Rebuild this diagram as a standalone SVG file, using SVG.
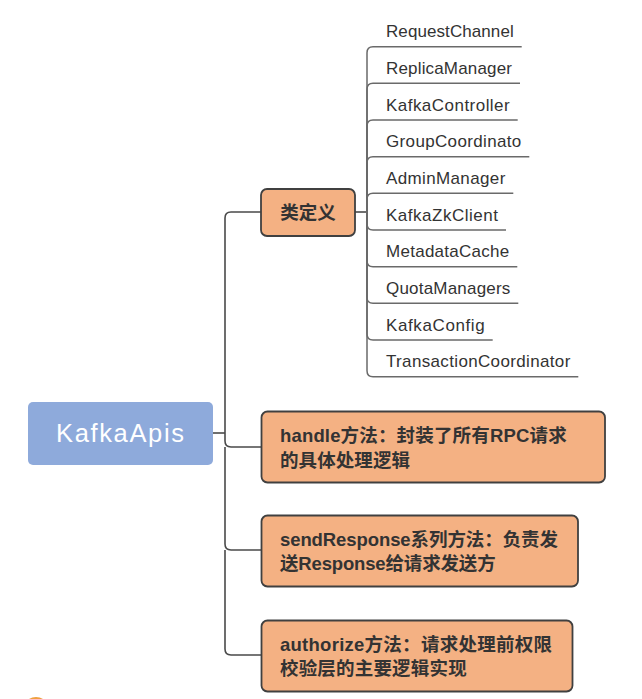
<svg xmlns="http://www.w3.org/2000/svg" width="642" height="699" viewBox="0 0 642 699">
<style>
.bg{fill:#ffffff}
.link{fill:none;stroke:#4a4a4a;stroke-width:1.6}
.leafline{fill:none;stroke:#6a6a6a;stroke-width:1.5}
.root{fill:#8eaadb}
.box{fill:#f4b183;stroke:#404040;stroke-width:1.8}
.roottext{font-family:"Liberation Sans","Noto Sans CJK SC",sans-serif;font-size:25.5px;fill:#ffffff}
.leaf{font-family:"Liberation Sans","Noto Sans CJK SC",sans-serif;font-size:17px;fill:#333333}
.bt{font-family:"Liberation Sans","Noto Sans CJK SC",sans-serif;font-size:18.5px;font-weight:bold;fill:#333333}
</style>
<rect class="bg" x="0" y="0" width="642" height="699"/>
<g id="connectors">
<path class="link" d="M213 433 H225"/>
<path class="link" d="M225 433 V218 Q225 212 231 212 H261"/>
<path class="link" d="M225 433 V441 Q225 447 231 447 H261"/>
<path class="link" d="M225 447 V544 Q225 550 231 550 H261"/>
<path class="link" d="M225 550 V649 Q225 655 231 655 H261"/>
<path class="link" d="M355 212 H367"/>
<path class="leafline" d="M367 212 V52.7 Q367 46.7 373 46.7 H521.7"/>
<path class="leafline" d="M367 212 V89.3 Q367 83.3 373 83.3 H520"/>
<path class="leafline" d="M367 212 V126 Q367 120 373 120 H517.7"/>
<path class="leafline" d="M367 212 V162.7 Q367 156.7 373 156.7 H529.3"/>
<path class="leafline" d="M367 212 V199.3 Q367 193.3 373 193.3 H513.3"/>
<path class="leafline" d="M367 212 V224 Q367 230 373 230 H506"/>
<path class="leafline" d="M367 212 V260.7 Q367 266.7 373 266.7 H517.3"/>
<path class="leafline" d="M367 212 V297.3 Q367 303.3 373 303.3 H518.3"/>
<path class="leafline" d="M367 212 V334 Q367 340 373 340 H492.7"/>
<path class="leafline" d="M367 212 V370.7 Q367 376.7 373 376.7 H578.3"/>
</g>
<g id="node-kafkaapis">
<rect class="root" x="28" y="402" width="185" height="63" rx="5"/>
<text class="roottext" x="56" y="442" textLength="128">KafkaApis</text>
</g>
<g id="node-leidingyi">
<rect class="box" x="261" y="189" width="94" height="47" rx="6"/>
<text class="bt" x="308" y="218.5" text-anchor="middle">类定义</text>
</g>
<g id="leaf-requestchannel"><text class="leaf" x="386" y="37.3" textLength="127.7">RequestChannel</text></g>
<g id="leaf-replicamanager"><text class="leaf" x="386" y="73.9" textLength="126">ReplicaManager</text></g>
<g id="leaf-kafkacontroller"><text class="leaf" x="386" y="110.6" textLength="123.7">KafkaController</text></g>
<g id="leaf-groupcoordinato"><text class="leaf" x="386" y="147.3" textLength="135.3">GroupCoordinato</text></g>
<g id="leaf-adminmanager"><text class="leaf" x="386" y="183.9" textLength="119.3">AdminManager</text></g>
<g id="leaf-kafkazkclient"><text class="leaf" x="386" y="220.6" textLength="112">KafkaZkClient</text></g>
<g id="leaf-metadatacache"><text class="leaf" x="386" y="257.3" textLength="123.3">MetadataCache</text></g>
<g id="leaf-quotamanagers"><text class="leaf" x="386" y="293.9" textLength="124.3">QuotaManagers</text></g>
<g id="leaf-kafkaconfig"><text class="leaf" x="386" y="330.6" textLength="98.7">KafkaConfig</text></g>
<g id="leaf-transactioncoordinator"><text class="leaf" x="386" y="367.3" textLength="184.3">TransactionCoordinator</text></g>
<g id="node-handle">
<rect class="box" x="261.5" y="411.5" width="343.5" height="71" rx="6"/>
<text class="bt" x="280" y="442" textLength="286.7">handle方法：封装了所有RPC请求</text>
<text class="bt" x="280" y="466.5" textLength="130">的具体处理逻辑</text>
</g>
<g id="node-sendresponse">
<rect class="box" x="261.5" y="515.5" width="316.5" height="71" rx="6"/>
<text class="bt" x="280" y="545.5" textLength="278">sendResponse系列方法：负责发</text>
<text class="bt" x="280" y="570" textLength="215.7">送Response给请求发送方</text>
</g>
<g id="node-authorize">
<rect class="box" x="261.5" y="620.5" width="311" height="71" rx="6"/>
<text class="bt" x="280" y="650.5" textLength="272">authorize方法：请求处理前权限</text>
<text class="bt" x="280" y="675" textLength="186.7">校验层的主要逻辑实现</text>
</g>
<circle cx="36" cy="710" r="13" fill="#f0a040"/>
</svg>
